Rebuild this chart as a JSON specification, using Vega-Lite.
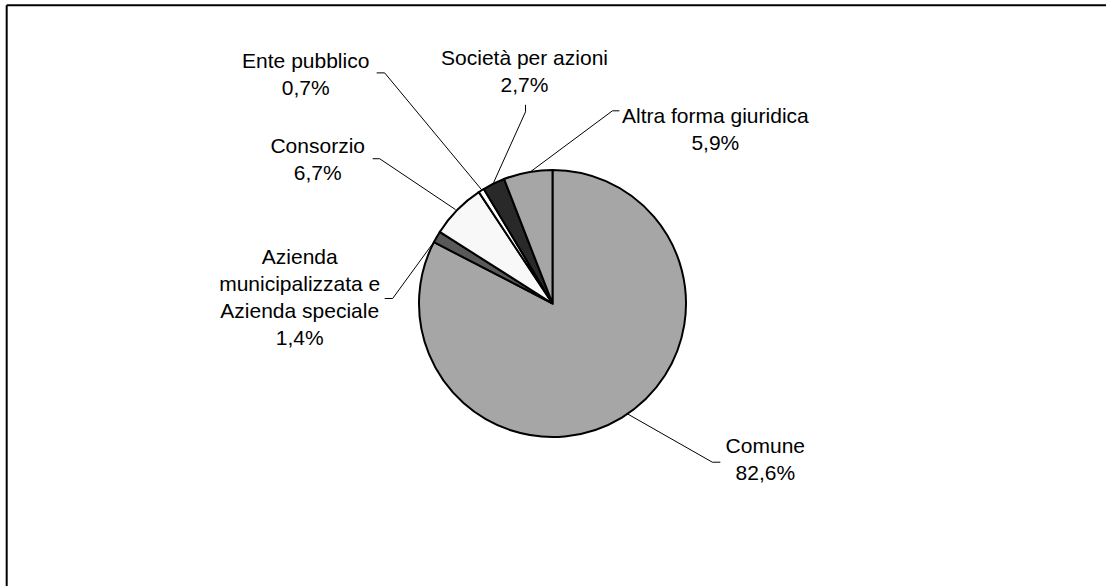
{
  "$schema": "https://vega.github.io/schema/vega-lite/v6.json",
  "width": 1107,
  "height": 587,
  "autosize": {"type": "fit", "contains": "padding"},
  "padding": 0,
  "background": "white",
  "config": {"view": {"stroke": null}},
  "datasets": {
    "slices": [
      {"name": "Comune", "value": 82.6, "ord": 1},
      {"name": "Azienda municipalizzata e Azienda speciale", "value": 1.4, "ord": 2},
      {"name": "Consorzio", "value": 6.7, "ord": 3},
      {"name": "Ente pubblico", "value": 0.7, "ord": 4},
      {"name": "Società per azioni", "value": 2.7, "ord": 5},
      {"name": "Altra forma giuridica", "value": 5.9, "ord": 6}
    ],
    "labels": [
      {"text": "Ente pubblico\n0,7%", "x": -247, "y": -242},
      {"text": "Società per azioni\n2,7%", "x": -28, "y": -245},
      {"text": "Altra forma giuridica\n5,9%", "x": 163, "y": -187},
      {"text": "Consorzio\n6,7%", "x": -235, "y": -157},
      {"text": "Azienda\nmunicipalizzata e\nAzienda speciale\n1,4%", "x": -253, "y": -46},
      {"text": "Comune\n82,6%", "x": 213, "y": 144}
    ],
    "leaders": [
      {"name": "Ente", "i": 1, "x": -176, "y": -231},
      {"name": "Ente", "i": 2, "x": -168, "y": -231},
      {"name": "Ente", "i": 3, "x": -71, "y": -114},
      {"name": "Spa", "i": 1, "x": -27, "y": -199},
      {"name": "Spa", "i": 2, "x": -27, "y": -192},
      {"name": "Spa", "i": 3, "x": -59, "y": -121},
      {"name": "Altra", "i": 1, "x": 67, "y": -193},
      {"name": "Altra", "i": 2, "x": 60, "y": -193},
      {"name": "Altra", "i": 3, "x": -22, "y": -132},
      {"name": "Consorzio", "i": 1, "x": -180, "y": -145},
      {"name": "Consorzio", "i": 2, "x": -173, "y": -145},
      {"name": "Consorzio", "i": 3, "x": -97, "y": -94},
      {"name": "Azienda", "i": 1, "x": -168, "y": -5},
      {"name": "Azienda", "i": 2, "x": -160, "y": -5},
      {"name": "Azienda", "i": 3, "x": -117, "y": -64},
      {"name": "Comune", "i": 1, "x": 168, "y": 159},
      {"name": "Comune", "i": 2, "x": 160, "y": 159},
      {"name": "Comune", "i": 3, "x": 74, "y": 110}
    ],
    "frame": [
      {"x": -546.3, "x2": 554, "y": -298.8, "y2": -298.8},
      {"x": -546.3, "x2": -546.3, "y": -298.8, "y2": 283}
    ]
  },
  "layer": [
    {
      "data": {"name": "frame"},
      "mark": {"type": "rule", "stroke": "#000", "strokeWidth": 2},
      "encoding": {
        "x": {"field": "x", "type": "quantitative", "scale": {"domain": [-553, 554], "nice": false, "zero": false}, "axis": null},
        "x2": {"field": "x2"},
        "y": {"field": "y", "type": "quantitative", "scale": {"domain": [-304, 283], "nice": false, "zero": false, "reverse": true}, "axis": null},
        "y2": {"field": "y2"}
      }
    },
    {
      "data": {"name": "leaders"},
      "mark": {"type": "line", "stroke": "#000", "strokeWidth": 1},
      "encoding": {
        "x": {"field": "x", "type": "quantitative"},
        "y": {"field": "y", "type": "quantitative"},
        "detail": {"field": "name"},
        "order": {"field": "i"}
      }
    },
    {
      "data": {"name": "slices"},
      "mark": {"type": "arc", "radius": 133.5, "stroke": "#000", "strokeWidth": 2},
      "encoding": {
        "x": {"datum": 0, "type": "quantitative"},
        "y": {"datum": 0, "type": "quantitative"},
        "theta": {"field": "value", "type": "quantitative", "stack": true},
        "order": {"field": "ord"},
        "color": {
          "field": "name", "type": "nominal", "legend": null,
          "scale": {
            "domain": ["Comune", "Azienda municipalizzata e Azienda speciale", "Consorzio", "Ente pubblico", "Società per azioni", "Altra forma giuridica"],
            "range": ["#a6a6a6", "#595959", "#f8f8f8", "#ffffff", "#292929", "#a6a6a6"]
          }
        }
      }
    },
    {
      "data": {"name": "labels"},
      "mark": {"type": "text", "font": "Liberation Sans", "fontSize": 21, "lineHeight": 27, "lineBreak": "\n", "align": "center", "baseline": "middle", "color": "#000"},
      "encoding": {
        "x": {"field": "x", "type": "quantitative"},
        "y": {"field": "y", "type": "quantitative"},
        "text": {"field": "text"}
      }
    }
  ]
}
